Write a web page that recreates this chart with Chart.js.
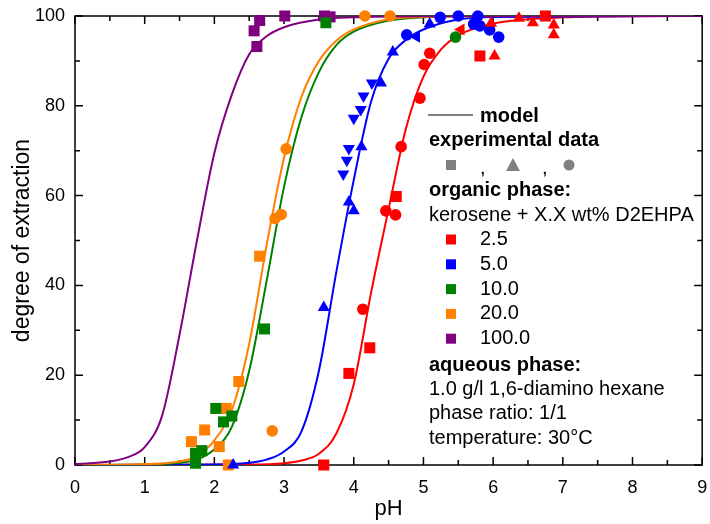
<!DOCTYPE html>
<html>
<head>
<meta charset="utf-8">
<script src="https://cdn.jsdelivr.net/npm/chart.js@4.4.0/dist/chart.umd.min.js"></script>
<style>
  html, body { margin: 0; padding: 0; background: #fff; }
</style>
</head>
<body>
<canvas id="extractionChart" width="710" height="524"></canvas>
<script>
// D2EHPA concentrations (wt%) and colours
const concentrations = ['2.5', '5.0', '10.0', '20.0', '100.0'];
const seriesColors = ['#ff0000', '#0000ff', '#008000', '#ff8000', '#800080'];

// experimental data [pH, degree of extraction]
const squares_2_5 = [[3.57, 0], [3.93, 20.4], [4.23, 26.1], [4.61, 59.8], [5.81, 91.1], [6.75, 100]];
const triangles_2_5 = [[5.97, 98.4], [6.02, 91.1], [6.37, 99.5], [6.57, 98.5], [6.87, 98], [6.87, 95.8]];
const leftTriangles_2_5 = [[5.54, 97]];
const circles_2_5 = [[4.13, 34.7], [4.46, 56.6], [4.60, 55.7], [4.68, 70.9], [4.95, 81.7], [5.01, 89.2], [5.09, 91.7]];

const triangles_5_0 = [[2.27, 0], [3.57, 35.1], [3.93, 58.6], [4.0, 56.6], [4.11, 70.9], [4.39, 85.1], [4.56, 92.0], [5.09, 98.2]];
const downTriangles_5_0 = [[3.85, 64.8], [3.90, 67.9], [3.93, 70.5], [4.0, 77.2], [4.10, 79.2], [4.14, 82.2], [4.26, 85.1]];
const leftTriangles_5_0 = [[4.9, 95.4]];
const circles_5_0 = [[4.76, 95.8], [5.24, 99.7], [5.5, 100], [5.72, 98.2], [5.78, 100], [5.81, 97.8], [5.95, 96.9], [6.08, 95.3]];

const squares_10_0 = [[1.73, 0.4], [1.73, 2.6], [1.82, 3.2], [2.02, 12.6], [2.13, 9.6], [2.25, 10.9], [2.72, 30.3], [3.6, 98.5]];
const circles_10_0 = [[5.46, 95.3]];

const squares_20_0 = [[1.67, 5.2], [1.86, 7.8], [2.07, 4.1], [2.17, 12.6], [2.2, 0], [2.35, 18.6], [2.65, 46.5]];
const circles_20_0 = [[2.83, 7.6], [2.87, 54.9], [2.96, 55.8], [3.03, 70.4], [4.16, 100], [4.52, 100]];

const squares_100_0 = [[2.57, 96.7], [2.61, 93.2], [2.65, 99], [3.01, 100], [3.58, 100], [3.66, 99.8]];

// model curves [pH, degree of extraction]
const model_2_5 = [[0, 0], [2.5, 0.1], [3, 0.4], [3.25, 1], [3.5, 2.5], [3.75, 7], [4, 18], [4.25, 38.5], [4.5, 57], [4.75, 75], [5, 86.5], [5.25, 92.5], [5.5, 95.7], [6, 98.3], [6.5, 99.3], [7, 99.7], [8, 99.95], [9, 100]];
const model_5_0 = [[0, 0], [2, 0.1], [2.5, 0.5], [2.75, 1.2], [3, 3], [3.25, 7.5], [3.5, 21], [3.75, 43], [4, 63.5], [4.25, 81], [4.5, 90.5], [4.75, 94.7], [5, 97], [5.5, 99.2], [6, 99.8], [9, 100]];
const model_10_0 = [[0, 0], [1, 0.1], [1.5, 0.5], [1.75, 1.2], [2, 3.5], [2.25, 8.5], [2.5, 21], [2.75, 41], [3, 62], [3.25, 77.5], [3.5, 87.5], [3.75, 93.5], [4, 96.5], [4.5, 99], [5, 99.7], [6, 100], [9, 100]];
const model_20_0 = [[0, 0], [1, 0.2], [1.5, 0.8], [1.75, 2], [2, 5.5], [2.25, 12.2], [2.5, 27], [2.75, 49], [3, 68.5], [3.25, 82], [3.5, 90], [3.75, 94.5], [4, 97], [4.5, 99.3], [5, 99.8], [6, 100], [9, 100]];
const model_100_0 = [[0, 0.2], [0.5, 0.8], [0.75, 1.7], [1, 4], [1.25, 11], [1.5, 29], [1.75, 50], [2, 69.5], [2.25, 82.5], [2.5, 91.5], [2.75, 95.5], [3, 97.5], [3.5, 99.2], [4, 99.7], [5, 99.95], [9, 100]];

// legend text
const legendLines = {
  model: 'model',
  experimental: 'experimental data',
  organic: 'organic phase:',
  solvent: 'kerosene + X.X wt% D2EHPA',
  aqueous: 'aqueous phase:',
  aqueousInfo: ['1.0 g/l 1,6-diamino hexane', 'phase ratio: 1/1', 'temperature: 30°C']
};

const FONT = "'Liberation Sans', Arial, sans-serif";
const GRAY = '#808080';

function toXY(arr) {
  return arr.map(p => ({ x: p[0], y: p[1] }));
}

function markers(arr, color, style, rotation, radius) {
  return {
    data: toXY(arr),
    showLine: false,
    pointStyle: style,
    rotation: rotation,
    pointRadius: radius,
    pointBackgroundColor: color,
    pointBorderColor: color,
    pointBorderWidth: 0,
    clip: false
  };
}

function curve(arr, color) {
  return {
    data: toXY(arr),
    showLine: true,
    borderColor: color,
    borderWidth: 2,
    pointRadius: 0,
    cubicInterpolationMode: 'monotone',
    fill: false
  };
}

const SQ = 7.8, CI = 5.8, TR = 7;
const [cRed, cBlue, cGreen, cOrange, cPurple] = seriesColors;

const datasets = [
  markers(squares_2_5, cRed, 'rect', 0, SQ),
  markers(triangles_2_5, cRed, 'triangle', 0, TR),
  markers(leftTriangles_2_5, cRed, 'triangle', 270, TR),
  markers(circles_2_5, cRed, 'circle', 0, CI),
  markers(triangles_5_0, cBlue, 'triangle', 0, TR),
  markers(downTriangles_5_0, cBlue, 'triangle', 180, TR),
  markers(leftTriangles_5_0, cBlue, 'triangle', 270, TR),
  markers(circles_5_0, cBlue, 'circle', 0, CI),
  markers(squares_10_0, cGreen, 'rect', 0, SQ),
  markers(circles_10_0, cGreen, 'circle', 0, CI),
  markers(squares_20_0, cOrange, 'rect', 0, SQ),
  markers(circles_20_0, cOrange, 'circle', 0, CI),
  markers(squares_100_0, cPurple, 'rect', 0, SQ),
  curve(model_100_0, cPurple),
  curve(model_20_0, cOrange),
  curve(model_10_0, cGreen),
  curve(model_5_0, cBlue),
  curve(model_2_5, cRed)
];

// frame with inward ticks on all four sides
const framePlugin = {
  id: 'frame',
  beforeDatasetsDraw(chart) {
    const { ctx, chartArea: a, scales: { x, y } } = chart;
    ctx.save();
    ctx.strokeStyle = '#000';
    ctx.lineWidth = 1.5;
    ctx.strokeRect(a.left, a.top, a.right - a.left, a.bottom - a.top);
    ctx.beginPath();
    for (let i = 0; i <= 18; i++) {
      const v = i * 0.5;
      const len = i % 2 === 0 ? 8 : 5;
      const px = x.getPixelForValue(v);
      ctx.moveTo(px, a.bottom); ctx.lineTo(px, a.bottom - len);
      ctx.moveTo(px, a.top); ctx.lineTo(px, a.top + len);
    }
    for (let i = 0; i <= 10; i++) {
      const v = i * 10;
      const len = i % 2 === 0 ? 8 : 5;
      const py = y.getPixelForValue(v);
      ctx.moveTo(a.left, py); ctx.lineTo(a.left + len, py);
      ctx.moveTo(a.right, py); ctx.lineTo(a.right - len, py);
    }
    ctx.stroke();
    ctx.restore();
  }
};

// text legend inside the plot
const legendPlugin = {
  id: 'textLegend',
  afterDraw(chart) {
    const { ctx } = chart;
    ctx.save();
    ctx.textBaseline = 'middle';
    ctx.fillStyle = '#000';

    ctx.strokeStyle = GRAY;
    ctx.lineWidth = 2;
    ctx.beginPath(); ctx.moveTo(428, 115); ctx.lineTo(473, 115); ctx.stroke();

    ctx.font = 'bold 20px ' + FONT;
    ctx.fillText(legendLines.model, 480, 116);
    ctx.fillText(legendLines.experimental, 429, 140);

    ctx.fillStyle = GRAY;
    ctx.fillRect(446, 160, 10, 10);
    ctx.beginPath(); ctx.moveTo(513, 158); ctx.lineTo(520, 171); ctx.lineTo(506, 171); ctx.closePath(); ctx.fill();
    ctx.beginPath(); ctx.arc(569, 165, 5.5, 0, Math.PI * 2); ctx.fill();
    ctx.fillStyle = '#000';
    ctx.font = '20px ' + FONT;
    ctx.fillText(',', 480, 168);
    ctx.fillText(',', 542, 168);

    ctx.font = 'bold 20px ' + FONT;
    ctx.fillText(legendLines.organic, 429, 190);
    ctx.font = '20px ' + FONT;
    ctx.fillText(legendLines.solvent, 429, 215);

    concentrations.forEach((c, i) => {
      const yy = 239.5 + i * 24.8;
      ctx.fillStyle = seriesColors[i];
      ctx.fillRect(446, yy - 5, 10, 10);
      ctx.fillStyle = '#000';
      ctx.fillText(c, 480, yy);
    });

    ctx.font = 'bold 20px ' + FONT;
    ctx.fillText(legendLines.aqueous, 429, 365);
    ctx.font = '20px ' + FONT;
    legendLines.aqueousInfo.forEach((t, i) => ctx.fillText(t, 429, 389 + i * 24.5));
    ctx.restore();
  }
};

new Chart(document.getElementById('extractionChart').getContext('2d'), {
  type: 'scatter',
  data: { datasets: datasets },
  options: {
    responsive: false,
    animation: false,
    layout: { padding: { left: 0, right: 3, top: 16, bottom: 0 } },
    plugins: { legend: { display: false }, tooltip: { enabled: false } },
    scales: {
      x: {
        type: 'linear',
        min: 0,
        max: 9,
        grid: { display: false, drawTicks: false },
        border: { display: false },
        ticks: { stepSize: 1, padding: 12, color: '#000', font: { family: FONT, size: 18 } },
        title: { display: true, text: 'pH', color: '#000', font: { family: FONT, size: 22 }, padding: { top: 0, bottom: 2 } },
        afterFit(scale) { scale.height = 59; scale.paddingLeft = 0; scale.paddingRight = 0; }
      },
      y: {
        type: 'linear',
        min: 0,
        max: 100,
        grid: { display: false, drawTicks: false },
        border: { display: false },
        ticks: { stepSize: 20, padding: 10, color: '#000', font: { family: FONT, size: 18 } },
        title: { display: true, text: 'degree of extraction', color: '#000', font: { family: FONT, size: 23 }, padding: { top: 9, bottom: 0 } },
        afterFit(scale) { scale.width = 75; scale.paddingTop = 0; scale.paddingBottom = 0; }
      }
    }
  },
  plugins: [framePlugin, legendPlugin]
});
</script>
</body>
</html>
